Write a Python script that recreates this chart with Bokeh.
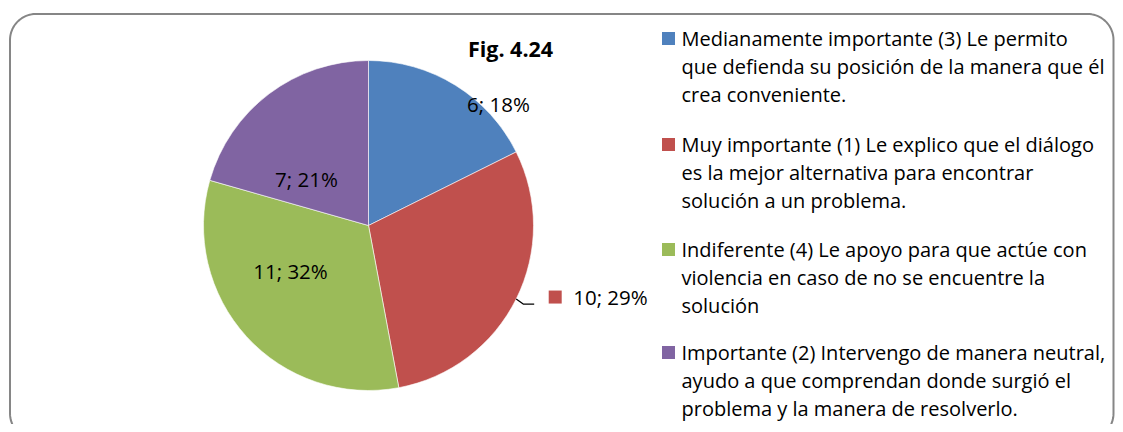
import numpy as np
from bokeh.plotting import figure
from bokeh.models import Range1d
from bokeh.core.properties import value
from bokeh.embed import file_html
from bokeh.resources import INLINE

# ---------------- data ----------------
title = "Fig. 4.24"
counts = [6, 10, 11, 7]
colors = ["#4F81BD", "#C0504D", "#9BBB59", "#8064A2"]
legend_lines = [
    ["Medianamente importante (3) Le permito",
     "que defienda su posición de la manera que él",
     "crea conveniente."],
    ["Muy importante (1) Le explico que el diálogo",
     "es la mejor alternativa para encontrar",
     "solución a  un problema."],
    ["Indiferente (4) Le apoyo para que actúe con",
     "violencia en caso de no se encuentre la",
     "solución"],
    ["Importante (2) Intervengo de manera neutral,",
     "ayudo a que comprendan donde surgió el",
     "problema y la manera de resolverlo."],
]

# ---------------- layout (screen px) ----------------
FONT = "Open Sans"
W, H = 1115, 424


def Y(sy):
    return H - sy


cx, cy, R = 368, 225, 165
# label anchor positions (screen px) for each slice
label_pos = [(498, 103), None, (290, 270), (306, 178)]

p = figure(width=W, height=H, x_range=Range1d(0, W), y_range=Range1d(0, H),
           output_backend="svg", toolbar_location=None, min_border=0)
p.axis.visible = False
p.grid.visible = False
p.outline_line_color = None
p.background_fill_color = "white"
p.border_fill_color = "white"

# rounded frame
x0, y0, x1, y1, rr = 9.5, 13.5, 1113, 439, 26
pts = []
for (ccx, ccy, a0, a1) in [(x1 - rr, y0 + rr, -90, 0), (x1 - rr, y1 - rr, 0, 90),
                            (x0 + rr, y1 - rr, 90, 180), (x0 + rr, y0 + rr, 180, 270)]:
    t = np.radians(np.linspace(a0, a1, 20))
    pts += list(zip(ccx + rr * np.cos(t), ccy + rr * np.sin(t)))
pts.append(pts[0])
p.line([q[0] for q in pts], [Y(q[1]) for q in pts], line_color="#868686", line_width=2)

# pie
total = sum(counts)
cum = np.concatenate([[0], np.cumsum(counts)])
starts = np.radians(90 - cum[:-1] / total * 360)
ends = np.radians(90 - cum[1:] / total * 360)
p.wedge(x=cx, y=Y(cy), radius=R, start_angle=starts, end_angle=ends, direction="clock",
        fill_color=colors, line_color="white", line_width=0.6)

labels = [f"{c}; {round(100 * c / total)}%" for c in counts]
for i, lab in enumerate(labels):
    if label_pos[i] is not None:
        lx, ly = label_pos[i]
        p.text([lx], [Y(ly)], text=[lab], text_font=value(FONT), text_font_size="20.5px",
               text_align="center", text_baseline="middle", text_color="black")
    else:
        mid = (starts[i] + ends[i]) / 2
        ex, ey = cx + R * np.cos(mid), cy - R * np.sin(mid)
        p.line([ex, ex + 7, ex + 18], [Y(ey), Y(ey + 5), Y(ey + 5)], line_color="black", line_width=1.3)
        p.rect([ex + 39], [Y(ey - 2)], width=13, height=13, fill_color=colors[i], line_color=None)
        p.text([ex + 57], [Y(ey - 2)], text=[lab], text_font=value(FONT), text_font_size="20.5px",
               text_align="left", text_baseline="middle", text_color="black")

# title
p.text([510], [Y(48)], text=[title], text_font=value(FONT), text_font_size="21.5px",
       text_font_style="bold", text_align="center", text_baseline="middle", text_color="black")

# legend
item_y = [38, 144, 249, 352]
for i, lines in enumerate(legend_lines):
    p.rect([668], [Y(item_y[i])], width=13, height=13, fill_color=colors[i], line_color=None)
    for k, ln in enumerate(lines):
        p.text([681], [Y(item_y[i] + 28 * k)], text=[ln], text_font=value(FONT),
               text_font_size="20px", text_align="left", text_baseline="middle", text_color="black")

open("out.html", "w").write(file_html(p, INLINE))
